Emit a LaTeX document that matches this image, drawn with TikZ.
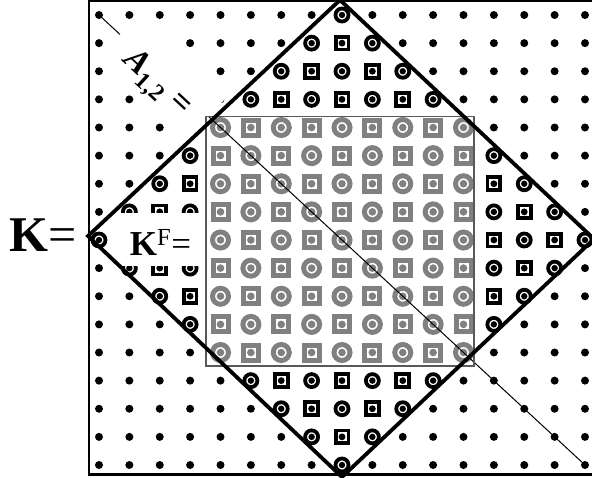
\documentclass[tikz,border=0pt]{standalone}
\usepackage{fontspec}
\setmainfont{Liberation Serif}
\usepackage{tikz}

\begin{document}
\begin{tikzpicture}[x=1pt,y=-1pt,
        dotm/.style={circle,fill,inner sep=0pt,minimum size=8pt},
        bcirc/.style={circle,draw,line width=3.8pt,inner sep=0pt,minimum size=13pt,
            path picture={\fill (path picture bounding box.center) circle (3.2pt);}},
        bsq/.style={rectangle,draw,line width=3.8pt,inner sep=0pt,minimum size=12.8pt,
            path picture={\fill (path picture bounding box.center) circle (3.4pt);}},
        gcirc/.style={circle,draw=black!50,line width=5pt,inner sep=0pt,minimum size=16pt,
            path picture={\fill[black!50] (path picture bounding box.center) circle (3.8pt);}},
        gsq/.style={rectangle,draw=black!50,line width=5pt,inner sep=0pt,minimum size=15pt,
            path picture={\fill[black!50] (path picture bounding box.center) circle (3.8pt);}},
        labelbox/.style={fill=white,inner sep=0pt}]
        \useasboundingbox (0,0) rectangle (592,477);
        % Lattice
        \foreach \i in {0,...,16}{
            \foreach \j in {0,...,16}{
                \pgfmathtruncatemacro{\dist}{abs(\i-8)+abs(\j-8)}
                \pgfmathtruncatemacro{\odd}{mod(\i+\j,2)}
                \pgfmathtruncatemacro{\ingray}{(\i>3)*(\i<13)*(\j>3)*(\j<13)}
                \coordinate (c) at ({99+30.375*\i},{15+28.125*\j});
                \ifnum\ingray=1
                    \ifnum\odd=0 \node[gcirc] (p-\i-\j) at (c) {};
                    \else \node[gsq] (p-\i-\j) at (c) {}; \fi
                \else
                    \ifnum\dist<9
                        \ifnum\odd=0 \node[bcirc] (p-\i-\j) at (c) {};
                        \else \node[bsq] (p-\i-\j) at (c) {}; \fi
                    \else
                        \node[dotm] (p-\i-\j) at (c) {};
                    \fi
                \fi
            }
        }
        % Diagonal
        \draw[line width=1pt] (p-0-0.center) -- (p-16-16.center);
        % Labels on white
        \node[labelbox,rotate=-42.8,inner xsep=20pt,inner ysep=5pt,text height=44pt,text depth=6pt]
            (aeq) at (164.7,75.2) {\fontsize{34}{36}\selectfont\bfseries\itshape A\textsubscript{\upshape 1,2} \upshape=};
        \node[labelbox,minimum width=89pt,minimum height=53pt,text height=31pt,text depth=0pt]
            (kfeq) at (160.5,239.5) {\fontsize{35}{37}\selectfont\textbf{K}\textsuperscript{F}=};
        % Inner square
        \draw[black!65,line width=1.3pt] (206,116.5) rectangle (474,366);
        % Diamond
        \draw[line width=3.8pt,line join=miter] (340,0) -- (88,236) -- (342,477) -- (594,239) -- cycle;
        % Frame
        \draw[line width=2.4pt] (89,1) rectangle (595,474.5);
        \node[inner sep=0pt] (keq) at (43,235) {\fontsize{50}{52}\selectfont\textbf{K}=};
    \end{tikzpicture}
\end{document}
